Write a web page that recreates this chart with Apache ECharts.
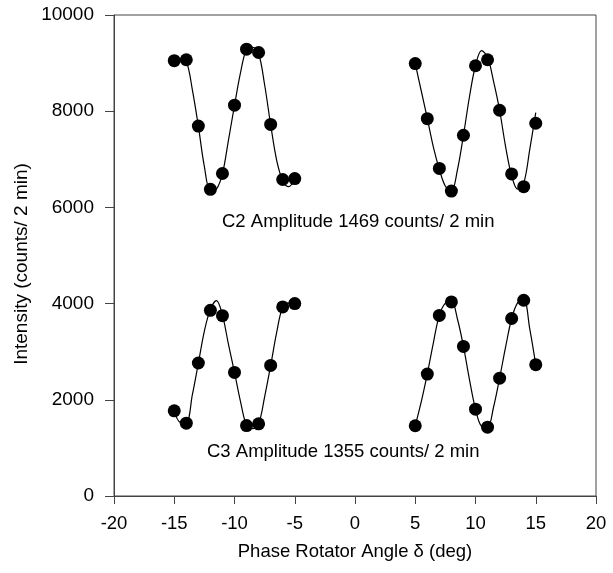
<!DOCTYPE html>
<html>
<head>
<meta charset="utf-8">
<script src="https://cdn.jsdelivr.net/npm/echarts@6/dist/echarts.min.js"></script>
<style>html,body{margin:0;padding:0;background:#fff;}#chart{width:613px;height:573px;}</style>
</head>
<body>
<div id="chart"></div>
<script>
// Measured points
const xLeft = [-15, -14, -13, -12, -11, -10, -9, -8, -7, -6, -5];
const xRight = [5, 6, 7, 8, 9, 10, 11, 12, 13, 14, 15];
const c2Left = [9050, 9070, 7690, 6375, 6705, 8125, 9290, 9220, 7725, 6580, 6600];
const c2Right = [8990, 7845, 6810, 6340, 7500, 8945, 9070, 8020, 6695, 6430, 7750];
const c3Left = [1770, 1515, 2765, 3860, 3750, 2570, 1465, 1500, 2715, 3930, 4000];
const c3Right = [1460, 2535, 3755, 4035, 3110, 1805, 1430, 2450, 3690, 4070, 2730];

// Fitted curves at half-degree steps
const curveXLeft = [-15, -14.5, -14, -13.5, -13, -12.5, -12, -11.5, -11, -10.5, -10, -9.5, -9, -8.5, -8, -7.5, -7, -6.5, -6, -5.5, -5];
const curveXRight = [5, 5.5, 6, 6.5, 7, 7.5, 8, 8.5, 9, 9.5, 10, 10.5, 11, 11.5, 12, 12.5, 13, 13.5, 14, 14.5, 15];
const c2CurveLeft = [9050, 9090, 9040, 8450, 7690, 6850, 6350, 6380, 6700, 7400, 8120, 8800, 9290, 9330, 9200, 8550, 7720, 6980, 6560, 6430, 6580];
const c2CurveRight = [8990, 8420, 7850, 7260, 6790, 6440, 6340, 6780, 7500, 8300, 8950, 9260, 9120, 8620, 8020, 7260, 6660, 6380, 6500, 7200, 7970];
const c3CurveLeft = [1770, 1530, 1520, 2100, 2760, 3430, 3880, 4060, 3760, 3150, 2570, 1960, 1470, 1400, 1500, 2060, 2710, 3400, 3930, 4010, 4000];
const c3CurveRight = [1460, 1960, 2540, 3180, 3760, 4010, 4050, 3680, 3110, 2420, 1810, 1450, 1430, 1850, 2450, 3100, 3690, 4020, 4090, 3480, 2730];

const xTicks = { min: -20, max: 20, interval: 5 };
const yTicks = { min: 0, max: 10000, interval: 2000 };
const xTitle = 'Phase Rotator Angle δ (deg)';
const yTitle = 'Intensity (counts/ 2 min)';
const annotations = ['C2 Amplitude 1469 counts/ 2 min', 'C3 Amplitude 1355 counts/ 2 min'];

const zip = (xs, ys) => xs.map((x, i) => [x, ys[i]]);
const FONT = 'Liberation Sans, Arial, sans-serif';
const axisCol = '#444';

const chart = echarts.init(document.getElementById('chart'), null, { renderer: 'canvas' });

function curve(xs, ys) {
  return { type: 'line', data: zip(xs, ys), smooth: 0.35, showSymbol: false, symbol: 'none',
    lineStyle: { color: '#000', width: 1.2 }, z: 2, silent: true };
}
function pts(xs, ys) {
  return { type: 'scatter', data: zip(xs, ys), symbol: 'circle', symbolSize: 13,
    itemStyle: { color: '#000', opacity: 1 }, z: 3, silent: true };
}

chart.setOption({
  animation: false,
  backgroundColor: '#fff',
  grid: { left: 114, right: 17, top: 15, bottom: 77, show: true, borderColor: axisCol, borderWidth: 1, backgroundColor: 'transparent' },
  xAxis: {
    type: 'value', min: xTicks.min, max: xTicks.max, interval: xTicks.interval,
    name: xTitle, nameLocation: 'middle', nameGap: 46,
    nameTextStyle: { fontFamily: FONT, fontSize: 18.5, color: '#000' },
    axisLine: { show: true, onZero: false, lineStyle: { color: axisCol, width: 1 } },
    axisTick: { show: true, length: 8, lineStyle: { color: axisCol } },
    axisLabel: { fontFamily: FONT, fontSize: 18.5, color: '#000', margin: 18 },
    splitLine: { show: false }
  },
  yAxis: {
    type: 'value', min: yTicks.min, max: yTicks.max, interval: yTicks.interval,
    axisLine: { show: true, onZero: false, lineStyle: { color: axisCol, width: 1 } },
    axisTick: { show: true, length: 9, lineStyle: { color: axisCol } },
    axisLabel: { fontFamily: FONT, fontSize: 19, color: '#000', margin: 20, formatter: v => String(v) },
    splitLine: { show: false }
  },
  graphic: [
    { type: 'text', x: 22, y: 264, rotation: Math.PI / 2,
      style: { text: yTitle, fontFamily: FONT, fontSize: 19, fill: '#000', align: 'center', verticalAlign: 'middle' } },
    { type: 'text', left: 222, top: 212, style: { text: annotations[0], fontFamily: FONT, fontSize: 18.5, fill: '#000' } },
    { type: 'text', left: 207, top: 442, style: { text: annotations[1], fontFamily: FONT, fontSize: 18.5, fill: '#000' } }
  ],
  series: [
    curve(curveXLeft, c2CurveLeft), curve(curveXRight, c2CurveRight),
    curve(curveXLeft, c3CurveLeft), curve(curveXRight, c3CurveRight),
    pts(xLeft, c2Left), pts(xRight, c2Right), pts(xLeft, c3Left), pts(xRight, c3Right)
  ]
});
</script>
</body>
</html>
